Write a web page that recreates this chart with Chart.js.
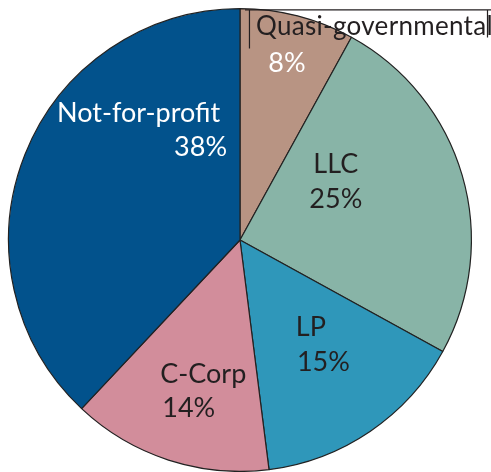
<!DOCTYPE html>
<html>
<head>
<meta charset="utf-8">
<script src="https://cdn.jsdelivr.net/npm/chart.js@4.4.0/dist/chart.umd.min.js"></script>
<style>
  html, body { margin: 0; padding: 0; background: #fff; }
  #wrap { width: 491px; height: 472px; }
</style>
</head>
<body>
<div id="wrap"><canvas id="myChart" width="491" height="472"></canvas></div>
<script>
// data, clockwise from 12 o'clock
const categories = ['Quasi-governmental', 'LLC', 'LP', 'C-Corp', 'Not-for-profit'];
const shares = [8, 25, 15, 14, 38];
const sliceColors = ['#b89483', '#88b4a7', '#2f97ba', '#d28d9b', '#02528c'];
const textColors = ['#fff', '#231f20', '#231f20', '#231f20', '#fff'];

// label placement, in fractions of the radius from the pie centre
// [name line, percent line] each as [dx, dy(baseline), align]
const labelLayout = [
    { name: [0.069, -0.884, 'left'],  pct: [0.203, -0.724, 'center'], nameColor: '#231f20', nameFont: '26px Lato, "DejaVu Sans", sans-serif', spacing: '0.3px' },
    { name: [0.414, -0.289, 'center'], pct: [0.414, -0.138, 'center'] },
    { name: [0.241, 0.414, 'left'],   pct: [0.246, 0.565, 'left'] },
    { name: [-0.345, 0.616, 'left'],  pct: [-0.336, 0.767, 'left'] },
    { name: [-0.086, -0.509, 'right'], pct: [-0.056, -0.362, 'right'] }
];

const FONT = '27px Lato, "DejaVu Sans", sans-serif';

const sliceLabels = {
    id: 'sliceLabels',
    afterDatasetsDraw(chart) {
        const ctx = chart.ctx;
        const arcs = chart.getDatasetMeta(0).data;
        ctx.save();
        ctx.textBaseline = 'alphabetic';
        arcs.forEach((arc, i) => {
            const r = arc.outerRadius;
            const lay = labelLayout[i];
            // name line
            const nx = arc.x + lay.name[0] * r, ny = arc.y + lay.name[1] * r;
            ctx.font = lay.nameFont || FONT;
            ctx.letterSpacing = lay.spacing || '0px';
            ctx.textAlign = lay.name[2];
            ctx.fillStyle = lay.nameColor || textColors[i];
            ctx.fillText(categories[i], nx, ny);
            if (i === 0) {
                // the little bracket around the quasi-governmental label
                const w = ctx.measureText(categories[i]).width;
                const rx = Math.min(nx + w + 2, chart.width - 3.5);
                ctx.strokeStyle = '#231f20';
                ctx.lineWidth = 1.2;
                ctx.beginPath();
                ctx.moveTo(nx - 11, ny - 25.5);
                ctx.lineTo(chart.width, ny - 25.5);
                ctx.moveTo(nx - 6.5, ny - 25.5);
                ctx.lineTo(nx - 6.5, ny + 13);
                ctx.moveTo(rx, ny - 25.5);
                ctx.lineTo(rx, ny + 2);
                ctx.stroke();
            }
            // percent line
            ctx.font = FONT;
            ctx.letterSpacing = '0px';
            ctx.textAlign = lay.pct[2];
            ctx.fillStyle = textColors[i];
            ctx.fillText(shares[i] + '%', arc.x + lay.pct[0] * r, arc.y + lay.pct[1] * r);
        });
        ctx.restore();
    }
};

const ctx = document.getElementById('myChart').getContext('2d');
const myChart = new Chart(ctx, {
    type: 'pie',
    data: {
        labels: categories,
        datasets: [{
            data: shares,
            backgroundColor: sliceColors,
            borderColor: '#222',
            borderWidth: 1.2
        }]
    },
    options: {
        responsive: false,
        animation: false,
        layout: {
            padding: { left: 8, right: 19, top: 8, bottom: 0 }
        },
        plugins: {
            legend: { display: false },
            tooltip: { enabled: false }
        }
    },
    plugins: [sliceLabels]
});
</script>
</body>
</html>
